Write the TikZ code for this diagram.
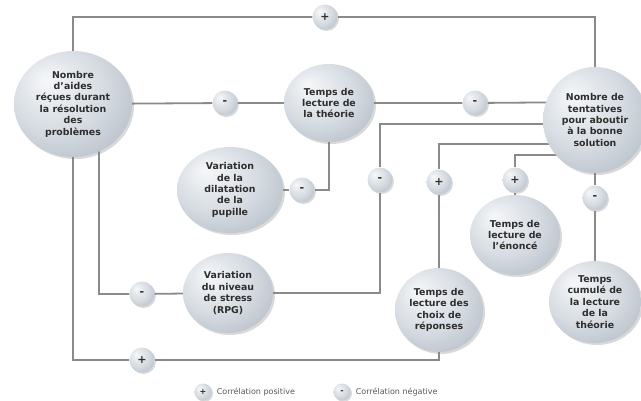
\documentclass[tikz,border=0pt]{standalone}
\usepackage{fontspec}
\setmainfont{DejaVu Sans}
\usepackage{xcolor}
\usepackage{tikz}
\usetikzlibrary{shapes.geometric,shadows,backgrounds,positioning}

\definecolor{linegray}{HTML}{8A8A8A}
\definecolor{textgray}{HTML}{2E2E2E}
\definecolor{bubbleLight}{HTML}{F6F7F9}
\definecolor{bubbleMid}{HTML}{D6DCE2}
\definecolor{bubbleDark}{HTML}{98A2AD}
\pgfdeclareradialshading{bubble}{\pgfpoint{-12bp}{12bp}}{color(0bp)=(bubbleLight); color(20bp)=(bubbleMid); color(50bp)=(bubbleDark)}

\tikzset{
	bubblenode/.style={ellipse, shade, shading=bubble, inner sep=0pt, align=center,
		drop shadow={opacity=0.3, shadow xshift=2pt, shadow yshift=-2pt},
		text=textgray, font=\fontsize{9.4}{11.4}\selectfont\bfseries},
	sign/.style={circle, shade, shading=bubble, minimum size=25pt, inner sep=0pt,
		drop shadow={opacity=0.3, shadow xshift=1.5pt, shadow yshift=-1.5pt},
		text=textgray, font=\fontsize{11}{11}\selectfont\bfseries},
	legsign/.style={sign, minimum size=17pt, font=\fontsize{8}{8}\selectfont\bfseries},
	legtext/.style={text=textgray!80, font=\fontsize{8}{8}\selectfont, inner sep=0pt},
	conn/.style={draw=linegray, line width=1.8pt}
}

\begin{document}
\begin{tikzpicture}[x=1pt,y=-1pt]
	\useasboundingbox (0,0) rectangle (641,400);
	
	% Variables
	\node[bubblenode, minimum width=118pt, minimum height=106pt] (aides) at (73,104)
		{Nombre\\d'aides\\réçues durant\\la résolution\\des\\problèmes};
	\node[bubblenode, minimum width=90pt, minimum height=78pt] (theorie) at (329,103)
		{Temps de\\lecture de\\la théorie};
	\node[bubblenode, minimum width=104pt, minimum height=106pt] (tent) at (595,120)
		{Nombre de\\tentatives\\pour aboutir\\à la bonne\\solution};
	\node[bubblenode, minimum width=106pt, minimum height=86pt] (pupille) at (230,190)
		{Variation\\de la\\dilatation\\de la\\pupille};
	\node[bubblenode, minimum width=90pt, minimum height=80pt] (stress) at (228,293)
		{Variation\\du niveau\\de stress\\(RPG)};
	\node[bubblenode, minimum width=88pt, minimum height=84pt] (choix) at (439,310)
		{Temps de\\lecture des\\choix de\\réponses};
	\node[bubblenode, minimum width=90pt, minimum height=80pt] (enonce) at (515,235)
		{Temps de\\lecture de\\l'énoncé};
	\node[bubblenode, minimum width=92pt, minimum height=82pt] (cumul) at (595,302)
		{Temps\\cumulé de\\la lecture\\de la\\théorie};
	
	% Correlation signs
	\node[sign] (plusTop) at (325,17) {+};
	\node[sign] (minusA) at (225,103) {-};
	\node[sign] (minusB) at (475,103) {-};
	\node[sign] (minusP) at (302,190) {-};
	\node[sign] (minusT) at (380,180) {-};
	\node[sign] (plusC) at (439,182) {+};
	\node[sign] (plusE) at (515,180) {+};
	\node[sign] (minusC) at (595,198) {-};
	\node[sign] (minusS) at (142,294) {-};
	\node[sign] (plusB) at (142,360) {+};
	
	% Line ends hidden under the nodes
	\coordinate (aidesR) at (99,104);
	\coordinate (inTheorie) at (600,102);
	\coordinate (inStress) at (600,124);
	\coordinate (inChoix) at (600,144);
	\coordinate (inEnonce) at (600,155);
	
	% Connectors
	\begin{scope}[on background layer]
		\draw[conn] (aides) |- (plusTop) -| (tent);
		\draw[conn] (aides) -- (minusA) -- (theorie);
		\draw[conn] (theorie) -- (minusB) -- (inTheorie);
		\draw[conn] (pupille) -- (minusP) -| (theorie);
		\draw[conn] (aidesR) |- (minusS) -- (stress);
		\draw[conn] (stress) -| (minusT) |- (inStress);
		\draw[conn] (aides) |- (plusB) -| (choix);
		\draw[conn] (choix) -- (plusC) |- (inChoix);
		\draw[conn] (enonce) -- (plusE) |- (inEnonce);
		\draw[conn] (tent) -- (minusC) -- (cumul);
	\end{scope}
	
	% Legend
	\node[legsign] (legPlus) at (203,392) {+};
	\node[legtext, right=5pt of legPlus] (legPlusText) {Corrélation positive};
	\node[legsign] (legMinus) at (342,392) {-};
	\node[legtext, right=5pt of legMinus] (legMinusText) {Corrélation négative};
\end{tikzpicture}
\end{document}
